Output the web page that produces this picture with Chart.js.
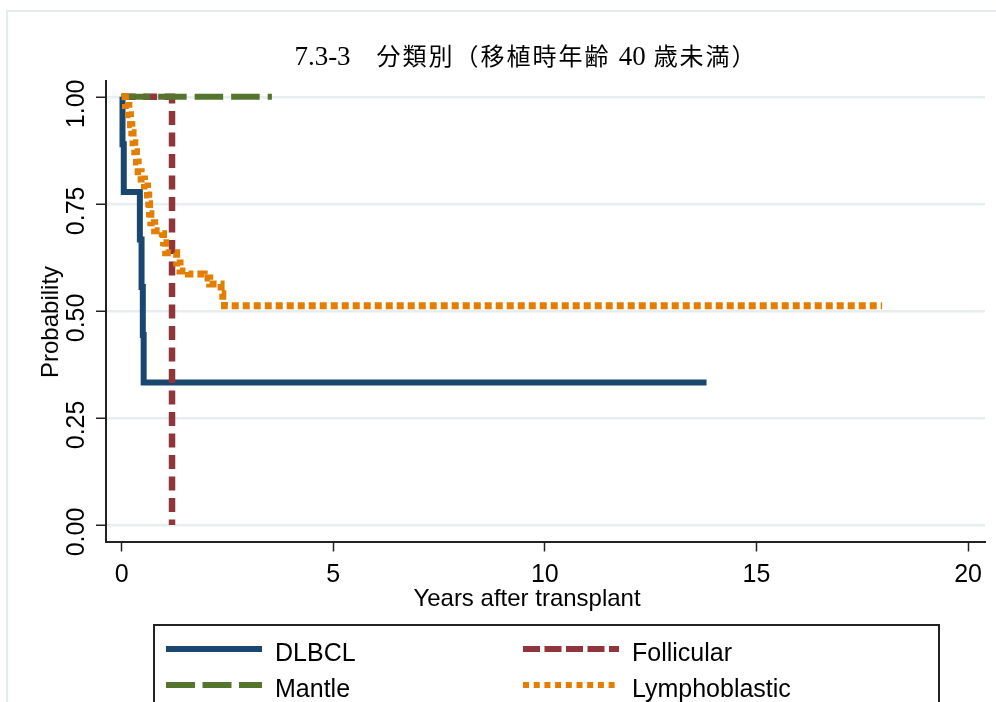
<!DOCTYPE html>
<html>
<head>
<meta charset="utf-8">
<script src="https://cdn.jsdelivr.net/npm/chart.js@4.4.1/dist/chart.umd.min.js"></script>
<style>
  body { margin: 0; width: 996px; height: 702px; overflow: hidden; position: relative; background: #fff; }
  #frame { position: absolute; left: 6px; top: 10px; width: 1100px; height: 800px; border-top: 2px solid #e4ecee; border-left: 2px solid #e4ecee; }
  #myChart { position: absolute; left: 0; top: 0; }
  .txt { position: absolute; white-space: nowrap; color: #000; font-family: "Liberation Sans", Arial, sans-serif; }
  #title { left: 526px; top: 54px; transform: translate(-50%, -50%); font-family: "Liberation Serif", "Noto Sans CJK JP", serif; font-size: 24px; letter-spacing: 2px; }
  #title .lat { font-size: 27px; letter-spacing: 0; }
  #xTitle { left: 527px; top: 598px; transform: translate(-50%, -50%); font-size: 24px; }
  #yTitle { left: 50px; top: 322px; transform: translate(-50%, -50%) rotate(-90deg); font-size: 24px; }
  #legend { position: absolute; left: 153px; top: 624px; width: 783px; height: 120px; border: 2px solid #222; }
  .item { position: absolute; height: 30px; }
  .item svg { position: absolute; left: 0; }
  .item span { position: absolute; font-family: "Liberation Sans", Arial, sans-serif; font-size: 25px; line-height: 30px; white-space: nowrap; }
</style>
</head>
<body>
<div id="frame"></div>
<canvas id="myChart" width="996" height="702"></canvas>
<div id="title" class="txt"><span class="lat">7.3-3</span>　分類別（移植時年齢 <span class="lat">40</span> 歳未満）</div>
<div id="xTitle" class="txt">Years after transplant</div>
<div id="yTitle" class="txt">Probability</div>
<div id="legend"></div>
<script>
/* globals Chart:false */
// Kaplan-Meier steps: time (years) and survival after each drop
const dlbclYears = [0, 0.02, 0.05, 0.43, 0.47, 0.50, 0.52, 13.82];
const dlbclProb = [1, 0.889, 0.778, 0.667, 0.556, 0.444, 0.333, 0.333];

const follicularYears = [0, 1.19];
const follicularProb = [1, 0];

const mantleYears = [0, 3.55];
const mantleProb = [1, 1];

const lymphoYears = [0, 0.09, 0.17, 0.21, 0.24, 0.27, 0.31, 0.35, 0.39, 0.46, 0.54, 0.61, 0.64, 0.66, 0.69, 0.78, 0.96, 0.99, 1.04, 1.30, 1.38, 1.58, 1.95, 2.08, 2.35, 2.39, 2.43, 17.97];
const lymphoProb = [1, 0.980, 0.958, 0.935, 0.916, 0.893, 0.872, 0.848, 0.825, 0.808, 0.792, 0.771, 0.750, 0.727, 0.706, 0.687, 0.680, 0.659, 0.636, 0.612, 0.593, 0.586, 0.577, 0.563, 0.540, 0.521, 0.512, 0.512];

const seriesNames = ["DLBCL", "Follicular", "Mantle", "Lymphoblastic"];
const xTicks = [0, 5, 10, 15, 20];
const yTicks = [0, 0.25, 0.5, 0.75, 1];
const yTickLabels = ["0.00", "0.25", "0.50", "0.75", "1.00"];

const colors = ["#1a476f", "#90353b", "#55752f", "#e37e00"];
const plotDash = [[], [14, 7.5], [28.5, 8], [7, 4]];
const legendDash = [[], [17, 4.5], [29, 7.5], [6, 4.7]];
const widths = [6, 6.5, 6, 7];

function toPoints(xs, ys) {
  return xs.map((x, i) => ({ x: x, y: ys[i] }));
}

const allYears = [dlbclYears, follicularYears, mantleYears, lymphoYears];
const allProb = [dlbclProb, follicularProb, mantleProb, lymphoProb];

const datasets = seriesNames.map((name, i) => ({
  label: name,
  data: toPoints(allYears[i], allProb[i]),
  borderColor: colors[i],
  borderWidth: widths[i],
  borderDash: plotDash[i],
  borderCapStyle: "butt",
  borderJoinStyle: "miter",
  stepped: true,
  pointRadius: 0,
  fill: false,
  order: seriesNames.length - i,
}));

const tickFont = { family: "'Liberation Sans', Arial, sans-serif", size: 25 };

new Chart(document.getElementById("myChart").getContext("2d"), {
  type: "line",
  data: { datasets: datasets },
  options: {
    responsive: false,
    animation: false,
    devicePixelRatio: 1,
    layout: { padding: { left: 0, right: 11, top: 81, bottom: 85.5 } },
    plugins: { legend: { display: false }, tooltip: { enabled: false } },
    scales: {
      x: {
        type: "linear",
        min: -0.37,
        max: 20.4,
        afterBuildTicks: (axis) => { axis.ticks = xTicks.map((v) => ({ value: v })); },
        afterFit: (scale) => { scale.height = 75; },
        border: { color: "#222", width: 2 },
        grid: { drawOnChartArea: false, tickColor: "#222", tickLength: 10, tickWidth: 1.5 },
        ticks: { color: "#000", font: tickFont, padding: 9, maxRotation: 0 },
      },
      y: {
        type: "linear",
        min: -0.0386,
        max: 1.037,
        afterBuildTicks: (axis) => { axis.ticks = yTicks.map((v) => ({ value: v })); },
        afterFit: (scale) => { scale.width = 106; },
        border: { color: "#222", width: 2 },
        grid: { color: "#e6eef0", lineWidth: 2.5, tickColor: "#222", tickLength: 10, tickWidth: 1.5 },
        ticks: {
          color: "#000",
          font: tickFont,
          minRotation: 90,
          maxRotation: 90,
          crossAlign: "center",
          padding: -5,
          labelOffset: 7,
          callback: (value) => yTickLabels[yTicks.indexOf(value)],
        },
      },
    },
  },
});

// legend: two columns, filled row by row
const legend = document.getElementById("legend");
const colX = [11, 368];
const rowY = [8, 44];
seriesNames.forEach((name, i) => {
  const item = document.createElement("div");
  item.className = "item";
  item.style.left = colX[i % 2] + "px";
  item.style.top = rowY[Math.floor(i / 2)] + "px";
  item.innerHTML =
    '<svg width="96" height="30"><line x1="0" y1="15" x2="96" y2="15" stroke="' + colors[i] +
    '" stroke-width="6" stroke-dasharray="' + legendDash[i].join(" ") + '"/></svg>' +
    '<span style="left:109px;top:3px">' + name + "</span>";
  legend.appendChild(item);
});
</script>
</body>
</html>
